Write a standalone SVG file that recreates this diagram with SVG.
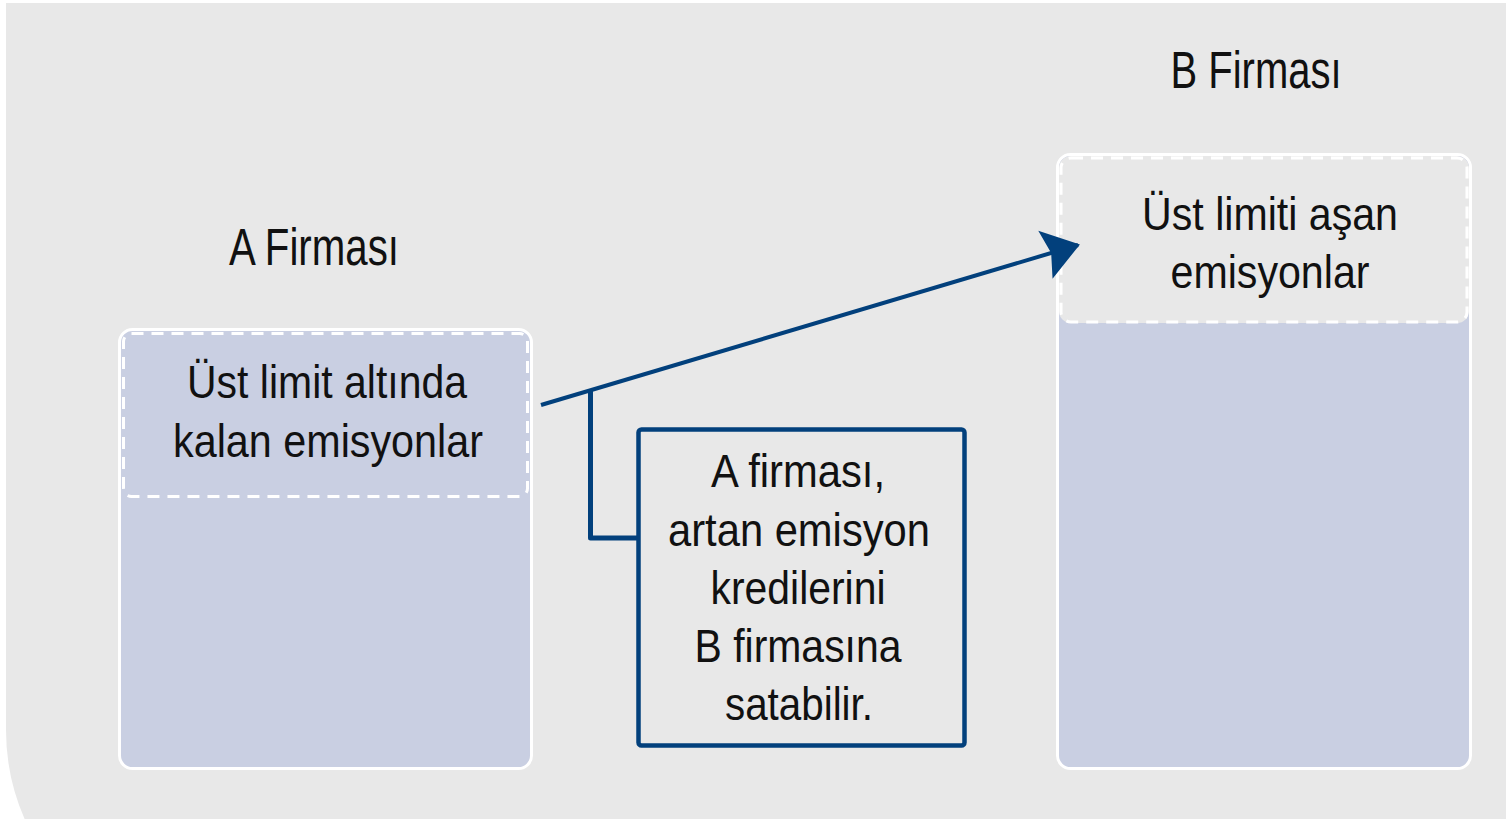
<svg xmlns="http://www.w3.org/2000/svg" width="1506" height="819" viewBox="0 0 1506 819">
<style>
.t{font-family:"Liberation Sans",Arial,sans-serif;fill:#111;text-anchor:middle;}
.outer{stroke:#fff;stroke-width:3;}
.dash{fill:none;stroke:#fff;stroke-width:3;stroke-dasharray:12 8;}
.conn{fill:none;stroke:#02407c;}
</style>
<defs>
<marker id="arr" markerUnits="userSpaceOnUse" markerWidth="40" markerHeight="60" refX="34" refY="25" orient="auto" viewBox="0 0 40 50">
<path d="M0,0 L36,25 L0,50 L6,25 Z" fill="#02407c"/>
</marker>
</defs>
<path d="M6,3 H1506 V819 H24.6 A222,222 0 0 1 6,730 Z" fill="#e8e8e8"/>
<g id="label-a"><text class="t" x="314" y="265" font-size="51" textLength="170" lengthAdjust="spacingAndGlyphs">A Firması</text></g>
<g id="label-b"><text class="t" x="1256" y="88" font-size="51" textLength="171" lengthAdjust="spacingAndGlyphs">B Firması</text></g>
<g id="firm-a">
<rect class="outer" x="119.5" y="329.5" width="412" height="439" rx="13" fill="#c9cfe2"/>
<rect class="dash" x="123.5" y="333.5" width="404" height="163" rx="8"/>
<text class="t" x="327" y="398" font-size="47" textLength="280" lengthAdjust="spacingAndGlyphs">Üst limit altında</text>
<text class="t" x="328" y="457" font-size="47" textLength="310" lengthAdjust="spacingAndGlyphs">kalan emisyonlar</text>
</g>
<g id="firm-b">
<rect class="outer" x="1057.5" y="154.5" width="413" height="614" rx="13" fill="#c9cfe2"/>
<rect x="1059" y="156" width="410" height="167" rx="12" fill="#e8e8e8"/>
<rect class="dash" x="1061" y="158" width="406" height="164" rx="10"/>
<text class="t" x="1270" y="230" font-size="47" textLength="256" lengthAdjust="spacingAndGlyphs">Üst limiti aşan</text>
<text class="t" x="1270" y="288" font-size="47" textLength="199" lengthAdjust="spacingAndGlyphs">emisyonlar</text>
</g>
<g id="note">
<rect x="638.5" y="429.5" width="326" height="316" rx="3" fill="none" stroke="#02407c" stroke-width="4.5"/>
<text class="t" x="798" y="487" font-size="47" textLength="174" lengthAdjust="spacingAndGlyphs">A firması,</text>
<text class="t" x="799" y="546" font-size="47" textLength="262" lengthAdjust="spacingAndGlyphs">artan emisyon</text>
<text class="t" x="798" y="604" font-size="47" textLength="175" lengthAdjust="spacingAndGlyphs">kredilerini</text>
<text class="t" x="798" y="662" font-size="47" textLength="207" lengthAdjust="spacingAndGlyphs">B firmasına</text>
<text class="t" x="799" y="720" font-size="47" textLength="148" lengthAdjust="spacingAndGlyphs">satabilir.</text>
</g>
<g id="connectors">
<line class="conn" x1="541" y1="405" x2="1078" y2="245" stroke-width="4" marker-end="url(#arr)"/>
<polyline class="conn" points="590.5,390 590.5,538 638,538" stroke-width="5" stroke-linejoin="round"/>
</g>
</svg>
